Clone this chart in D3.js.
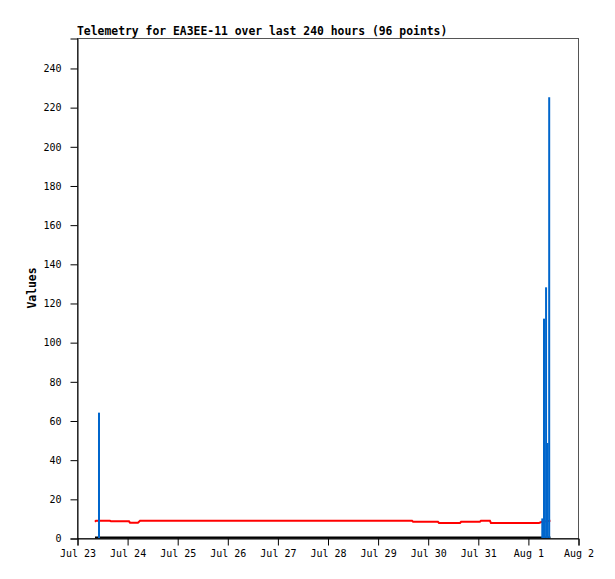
<!DOCTYPE html>
<html>
<head>
<meta charset="utf-8">
<script src="https://cdn.jsdelivr.net/npm/d3@7/dist/d3.min.js"></script>
<style>
  html, body { margin: 0; padding: 0; background: #fff; }
  svg { display: block; }
  .tick text { font-family: "DejaVu Sans Mono", "Liberation Mono", monospace; font-size: 10px; fill: #000; }
</style>
</head>
<body>
<svg id="chart" width="615" height="579"></svg>
<script>
// ---- data ----
const titleText = "Telemetry for EA3EE-11 over last 240 hours (96 points)";
const yLabelText = "Values";

const redTimes = [
  "2024-07-23T08:37", "2024-07-23T09:06", "2024-07-23T15:48", "2024-07-23T16:18",
  "2024-07-24T00:54", "2024-07-24T01:24", "2024-07-24T05:12", "2024-07-24T06:12",
  "2024-07-29T16:30", "2024-07-29T17:00", "2024-07-30T04:54", "2024-07-30T05:24",
  "2024-07-30T15:30", "2024-07-30T16:00", "2024-07-31T01:00", "2024-07-31T01:30",
  "2024-07-31T05:48", "2024-07-31T06:18", "2024-08-01T05:18", "2024-08-01T06:48",
  "2024-08-01T10:48"
];
const redValues = [
  8.3, 8.8, 8.8, 8.5,
  8.5, 7.8, 7.8, 8.8,
  8.8, 8.3, 8.3, 7.7,
  7.7, 8.3, 8.3, 8.8,
  8.8, 7.7, 7.7, 8.3,
  8.8
];

const blueTimes = [
  "2024-07-23T10:32", "2024-08-01T06:54", "2024-08-01T07:42",
  "2024-08-01T08:42", "2024-08-01T09:24", "2024-08-01T10:12"
];
const blueValues = [64, 10, 112, 128, 48.5, 225];

const zeroTimes = ["2024-07-23T08:37", "2024-08-01T10:48"];
const zeroValues = [0, 0];

const xDomain = ["2024-07-23T00:00", "2024-08-02T00:00"];
const yDomain = [0, 255.3];
const yTicks = [0, 20, 40, 60, 80, 100, 120, 140, 160, 180, 200, 220, 240];

// ---- layout ----
const W = 615, H = 579;
const margin = { left: 77, top: 38, right: 37, bottom: 41 };
const parse = d3.timeParse("%Y-%m-%dT%H:%M");

const svg = d3.select("#chart");
const x = d3.scaleTime()
  .domain(xDomain.map(parse))
  .range([margin.left, W - margin.right]);
const y = d3.scaleLinear()
  .domain(yDomain)
  .range([H - margin.bottom, margin.top]);

// frame
svg.append("rect")
  .attr("x", margin.left + 0.5)
  .attr("y", margin.top + 0.5)
  .attr("width", W - margin.right - margin.left)
  .attr("height", H - margin.bottom - margin.top)
  .attr("fill", "none")
  .attr("stroke", "#555")
  .attr("stroke-width", 1);

// axes
const xAxis = d3.axisBottom(x)
  .ticks(d3.timeDay.every(1))
  .tickFormat(d3.timeFormat("%b %-d"))
  .tickSize(7)
  .tickPadding(4);
const gx = svg.append("g")
  .attr("transform", `translate(0.5,${H - margin.bottom + 0.5})`)
  .call(xAxis);
gx.select(".domain").attr("stroke", "#000");
gx.selectAll(".tick line").attr("stroke", "#000");

const yAxis = d3.axisLeft(y)
  .tickValues(yTicks)
  .tickSize(7)
  .tickPadding(9);
const gy = svg.append("g")
  .attr("transform", `translate(${margin.left + 0.5},0.5)`)
  .call(yAxis);
gy.select(".domain").attr("stroke", "#000");
gy.selectAll(".tick line").attr("stroke", "#000");

// zero series (black)
const zeroData = zeroTimes.map((t, i) => ({ t: parse(t), v: zeroValues[i] }));
svg.append("path")
  .datum(zeroData)
  .attr("fill", "none")
  .attr("stroke", "#000")
  .attr("stroke-width", 2)
  .attr("d", d3.line().x(d => x(d.t)).y(d => y(d.v) - 0.5));

// red series
const redData = redTimes.map((t, i) => ({ t: parse(t), v: redValues[i] }));
svg.append("path")
  .datum(redData)
  .attr("fill", "none")
  .attr("stroke", "#ff0000")
  .attr("stroke-width", 2)
  .attr("d", d3.line().x(d => x(d.t)).y(d => y(d.v)));

// blue impulses
const blueData = blueTimes.map((t, i) => ({ t: parse(t), v: blueValues[i] }));
svg.append("g")
  .selectAll("line")
  .data(blueData)
  .join("line")
  .attr("x1", d => x(d.t))
  .attr("x2", d => x(d.t))
  .attr("y1", y(0))
  .attr("y2", d => y(d.v))
  .attr("stroke", "#0066cc")
  .attr("stroke-width", 2);

// title
svg.append("text")
  .attr("x", margin.left)
  .attr("y", 35)
  .attr("font-family", "'DejaVu Sans Mono', 'Liberation Mono', monospace")
  .attr("font-weight", "bold")
  .attr("font-size", "11.4px")
  .text(titleText);

// y label
svg.append("text")
  .attr("transform", `translate(36,${(margin.top + H - margin.bottom) / 2}) rotate(-90)`)
  .attr("text-anchor", "middle")
  .attr("font-family", "'DejaVu Sans Mono', 'Liberation Mono', monospace")
  .attr("font-weight", "bold")
  .attr("font-size", "11.4px")
  .text(yLabelText);
</script>
</body>
</html>
